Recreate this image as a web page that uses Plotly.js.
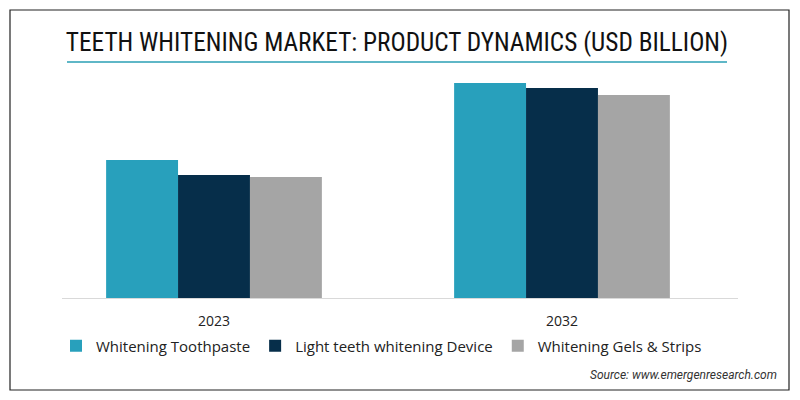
<!DOCTYPE html>
<html><head><meta charset="utf-8">
<script src="https://cdn.plot.ly/plotly-3.0.1.min.js"></script>
<style>html,body{margin:0;padding:0;background:#fff;}#chart{width:800px;height:400px;}</style>
</head><body><div id="chart"></div>
<script>
const categories = ['2023', '2032'];
const seriesNames = ['Whitening Toothpaste', 'Light teeth whitening Device', 'Whitening Gels & Strips'];
const toothpaste = [1.38, 2.15];
const lightDevice = [1.23, 2.10];
const gelsStrips = [1.21, 2.03];
const colors = ['#28a0bc', '#062e4a', '#a5a5a5'];

const values = [toothpaste, lightDevice, gelsStrips];
const traces = values.map((v, i) => ({
  type: 'bar', x: categories, y: v, name: seriesNames[i],
  marker: {color: colors[i]}, hoverinfo: 'none'
}));

const W = 800, H = 400, ml = 40, mr = 64, mt = 68, mb = 102;
const pw = W - ml - mr, ph = H - mt - mb;
const px = x => (x - ml) / pw;
const py = y => (H - mb - y) / ph;

const layout = {
  width: W, height: H,
  margin: {l: ml, r: mr, t: mt, b: mb},
  paper_bgcolor: '#fff', plot_bgcolor: '#fff',
  barmode: 'group', bargap: 0.38, bargroupgap: 0,
  font: {family: 'Open Sans, sans-serif', color: '#222'},
  xaxis: {type: 'category', showline: false, showgrid: false, zeroline: false,
    ticks: '', tickfont: {size: 14, color: '#222', family: 'Open Sans, sans-serif'}, ticklabelstandoff: 13},
  yaxis: {range: [0, 2.3], visible: false, showgrid: false, zeroline: false, fixedrange: true},
  showlegend: true,
  legend: {orientation: 'h', x: px(56), xanchor: 'left', y: py(346), yanchor: 'middle',
    font: {size: 15, color: '#222', family: 'Open Sans, sans-serif'}, itemwidth: 30, traceorder: 'normal'},
  title: {text: 'TEETH WHITENING MARKET: PRODUCT DYNAMICS (USD BILLION)',
    font: {family: 'Liberation Sans Narrow, Roboto Condensed, Roboto, sans-serif', size: 25.3, color: '#111'},
    x: 397 / W, xref: 'container', xanchor: 'center', y: 1 - 42 / H, yref: 'container', yanchor: 'middle'},
  shapes: [
    {type: 'rect', xref: 'paper', yref: 'paper', x0: px(10), x1: px(789), y0: py(10), y1: py(390),
      line: {color: '#222', width: 1.2}, fillcolor: 'rgba(0,0,0,0)'},
    {type: 'line', xref: 'paper', yref: 'paper', x0: px(67), x1: px(727), y0: py(62), y1: py(62),
      line: {color: '#2a9fb5', width: 1.5}},
    {type: 'line', xref: 'paper', yref: 'paper', x0: px(62), x1: px(738), y0: py(298.5), y1: py(298.5),
      line: {color: '#d9d9d9', width: 1}}
  ],
  annotations: [
    {text: 'Source: www.emergenresearch.com', xref: 'paper', yref: 'paper', x: px(779), y: py(375),
      xanchor: 'right', yanchor: 'middle', showarrow: false,
      font: {family: 'Roboto, sans-serif', size: 12, color: '#333', style: 'italic'}}
  ]
};

Plotly.newPlot('chart', traces, layout, {displayModeBar: false, staticPlot: true});
</script></body></html>
